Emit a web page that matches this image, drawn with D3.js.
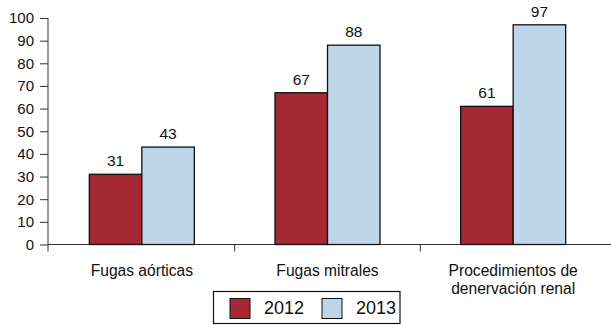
<!DOCTYPE html>
<html lang="es">
<head>
    <meta charset="utf-8" />
    <title>Fugas y denervación renal 2012-2013</title>
    <script src="https://d3js.org/d3.v7.min.js"></script>
    <style>
        body { margin: 0; background: #fff; }
        svg { display: block; font-family: "Liberation Sans", Arial, sans-serif; }
    </style>
</head>
<body>
    <script>
        var w = 611;
        var h = 325;

        // data
        var categories = [["Fugas aórticas"], ["Fugas mitrales"], ["Procedimientos de", "denervación renal"]];
        var years = ["2012", "2013"];
        var values2012 = [31, 67, 61];
        var values2013 = [43, 88, 97];
        var yTicks = [0, 10, 20, 30, 40, 50, 60, 70, 80, 90, 100];
        var colors = ["#a52834", "#bed6e9"];

        var series = [values2012, values2013];
        var keys = categories.map(function (d) { return d.join(" "); });

        var svg = d3.select("body").append("svg")
            .attr("width", w)
            .attr("height", h);

        var x0 = d3.scaleBand().domain(keys).range([49, 606]);
        var groupW = 105;
        var x1 = d3.scaleBand().domain(years).range([0, groupW]);
        var y = d3.scaleLinear().domain([0, 100]).range([244.5, 18]);

        // y axis
        var yAxis = svg.append("g")
            .attr("transform", "translate(48,0)")
            .call(d3.axisLeft(y).tickValues(yTicks).tickSize(8).tickPadding(6).tickSizeOuter(0));
        yAxis.select(".domain").remove();
        yAxis.selectAll("line").attr("stroke", "#333");
        yAxis.selectAll("text").attr("font-size", "15px").attr("fill", "#111")
            .attr("font-family", "'Liberation Sans', Arial, sans-serif");
        svg.append("line")
            .attr("x1", 48).attr("x2", 48)
            .attr("y1", y(100)).attr("y2", 251.5)
            .attr("stroke", "#333");

        // x axis line and separators
        svg.append("line")
            .attr("x1", 48).attr("x2", 611)
            .attr("y1", y(0)).attr("y2", y(0))
            .attr("stroke", "#333");
        svg.selectAll(".sep")
            .data(keys.slice(1))
            .enter().append("line")
            .attr("x1", function (d) { return x0(d); })
            .attr("x2", function (d) { return x0(d); })
            .attr("y1", y(0)).attr("y2", 251.5)
            .attr("stroke", "#333");

        // bars
        var groups = svg.selectAll(".grp")
            .data(keys)
            .enter().append("g")
            .attr("transform", function (d) {
                return "translate(" + (x0(d) + (x0.bandwidth() - groupW) / 2) + ",0)";
            });

        groups.each(function (k, i) {
            var g = d3.select(this);
            years.forEach(function (yr, j) {
                var v = series[j][i];
                g.append("rect")
                    .attr("x", x1(yr))
                    .attr("y", y(v))
                    .attr("width", x1.bandwidth())
                    .attr("height", y(0) - y(v))
                    .attr("fill", colors[j])
                    .attr("stroke", "#111")
                    .attr("stroke-width", 1.3);
                g.append("text")
                    .attr("x", x1(yr) + x1.bandwidth() / 2)
                    .attr("y", y(v) - 8)
                    .attr("text-anchor", "middle")
                    .attr("font-size", "15.5px")
                    .attr("fill", "#111")
                    .text(v);
            });
        });

        // category labels
        svg.selectAll(".cat")
            .data(categories)
            .enter().append("text")
            .attr("x", function (d, i) { return x0(keys[i]) + x0.bandwidth() / 2; })
            .attr("y", 276)
            .attr("text-anchor", "middle")
            .attr("font-size", "15.6px")
            .attr("fill", "#111")
            .each(function (d) {
                var t = d3.select(this);
                d.forEach(function (line, k) {
                    t.append("tspan")
                        .attr("x", t.attr("x"))
                        .attr("dy", k === 0 ? 0 : 17.5)
                        .text(line);
                });
            });

        // legend
        var legend = svg.append("g");
        legend.append("rect")
            .attr("x", 213.5).attr("y", 291.5)
            .attr("width", 186.5).attr("height", 32)
            .attr("fill", "#fff").attr("stroke", "#111").attr("stroke-width", 1.2);
        var legendX = [230, 322];
        years.forEach(function (yr, j) {
            legend.append("rect")
                .attr("x", legendX[j]).attr("y", 298.5)
                .attr("width", 20).attr("height", 20)
                .attr("fill", colors[j]).attr("stroke", "#111").attr("stroke-width", 1);
            legend.append("text")
                .attr("x", legendX[j] + 34).attr("y", 314)
                .attr("font-size", "18px")
                .attr("fill", "#111")
                .text(yr);
        });
    </script>
</body>
</html>
